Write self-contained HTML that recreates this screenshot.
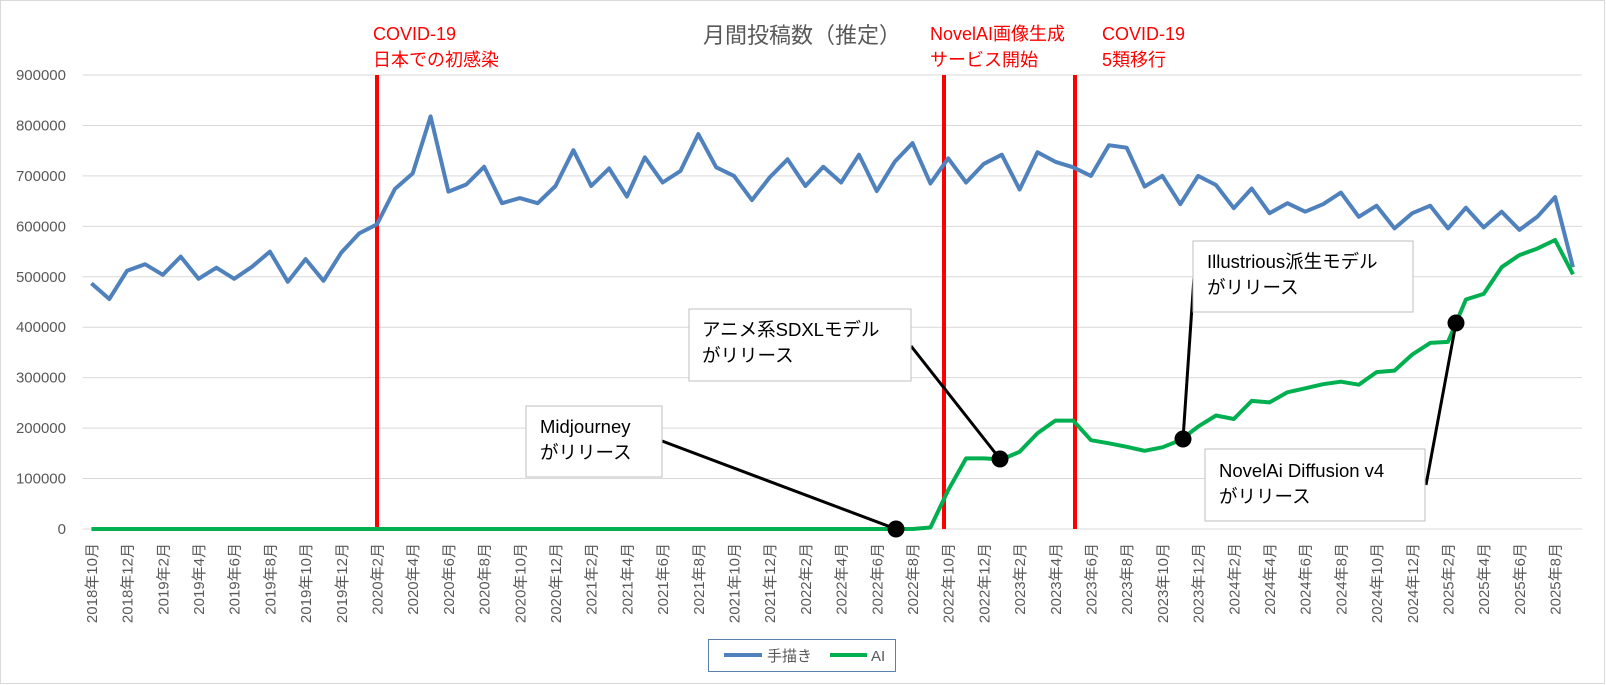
<!DOCTYPE html>
<html><head><meta charset="utf-8"><style>
html,body{margin:0;padding:0;background:#fff;}
svg{display:block;font-family:"Liberation Sans","Noto Sans CJK JP",sans-serif;}
</style></head><body>
<svg width="1606" height="685" viewBox="0 0 1606 685" xmlns="http://www.w3.org/2000/svg">
<rect x="0.5" y="0.5" width="1604" height="683" fill="#fff" stroke="#d9d9d9"/>
<g id="grid" stroke="#d9d9d9" stroke-width="1"></g>
<g id="ylab" fill="#595959" font-size="15" text-anchor="end"></g>
<g id="xlab" fill="#595959" font-size="15"></g>
<text x="802" y="43" font-size="22" fill="#595959" text-anchor="middle">月間投稿数（推定）</text>
<g fill="#ff0000" font-size="18">
<text x="373" y="40">COVID-19</text><text x="373" y="66">日本での初感染</text>
<text x="930" y="40">NovelAI画像生成</text><text x="930" y="66">サービス開始</text>
<text x="1102" y="40">COVID-19</text><text x="1102" y="66">5類移行</text>
</g>
<g stroke="#ff0000" stroke-width="4">
<line x1="377" y1="75" x2="377" y2="529"/><line x1="944" y1="75" x2="944" y2="529"/><line x1="1075" y1="75" x2="1075" y2="529"/>
</g>
<polyline id="blue" fill="none" stroke="#4f81bd" stroke-width="4" stroke-linejoin="round"/>
<polyline id="green" fill="none" stroke="#00b050" stroke-width="4" stroke-linejoin="round"/>
<g stroke="#000" stroke-width="3">
<line x1="662" y1="441" x2="896" y2="529"/>
<line x1="911" y1="346" x2="1000" y2="459"/>
<line x1="1194" y1="277" x2="1183" y2="439"/>
<line x1="1426" y1="485" x2="1456" y2="323"/>
</g>
<g fill="#000"><circle cx="896" cy="529" r="8.5"/><circle cx="1000" cy="459" r="8.5"/><circle cx="1183" cy="439" r="8.5"/><circle cx="1456" cy="323" r="8.5"/></g>
<g fill="#fff" stroke="#bfbfbf">
<rect x="526" y="406" width="136" height="71"/>
<rect x="689" y="309" width="222" height="72"/>
<rect x="1193" y="241" width="220" height="71"/>
<rect x="1205" y="449" width="220" height="72"/>
</g>
<g font-size="18.5" fill="#000">
<text x="540" y="433">Midjourney</text><text x="540" y="459">がリリース</text>
<text x="702" y="336">アニメ系SDXLモデル</text><text x="702" y="362">がリリース</text>
<text x="1207" y="268">Illustrious派生モデル</text><text x="1207" y="294">がリリース</text>
<text x="1219" y="477">NovelAi Diffusion v4</text><text x="1219" y="503">がリリース</text>
</g>
<rect x="708.5" y="639.5" width="187" height="32" fill="#fff" stroke="#5b7fae"/>
<line x1="724" y1="655" x2="762" y2="655" stroke="#4f81bd" stroke-width="4"/>
<text x="767" y="661" font-size="15" fill="#595959">手描き</text>
<line x1="830" y1="655" x2="867" y2="655" stroke="#00b050" stroke-width="4"/>
<text x="871" y="661" font-size="15" fill="#595959">AI</text>
<script>
var NS="http://www.w3.org/2000/svg";
function X(i){return 82.5+17.85*(i+0.5);}
function Y(v){return 529-v*0.0005044;}
var g=document.getElementById('grid'),yl=document.getElementById('ylab'),xl=document.getElementById('xlab');
for(var k=0;k<=9;k++){var y=Y(k*100000);var l=document.createElementNS(NS,'line');l.setAttribute('x1',82.5);l.setAttribute('x2',1582);l.setAttribute('y1',y);l.setAttribute('y2',y);g.appendChild(l);
var t=document.createElementNS(NS,'text');t.setAttribute('x',66);t.setAttribute('y',y+5);t.textContent=String(k*100000);yl.appendChild(t);}
for(var i=0;i<84;i+=2){var m=(9+i)%12+1,yr=2018+Math.floor((9+i)/12);var t=document.createElementNS(NS,'text');var x=X(i)+5.5;
t.setAttribute('transform','translate('+x+',543) rotate(-90)');t.setAttribute('text-anchor','end');t.textContent=yr+'年'+m+'月';xl.appendChild(t);}
var b=[487,456,512,525,504,540,496,518,496,520,550,490,535,492,548,586,604,674,705,818,669,683,718,646,656,646,680,751,680,715,659,737,687,710,783,717,700,652,697,733,680,718,687,742,670,728,765,685,735,687,724,742,673,747,728,717,700,761,756,679,700,644,700,682,636,675,626,646,629,644,667,619,641,596,626,641,596,637,598,629,593,619,658,519];
var gr=[];for(var i=0;i<47;i++)gr.push(0);gr.push(3);
gr=gr.concat([77,140,140,138,153,190,215,215,176,170,163,155,162,176,203,225,218,254,251,271,279,287,292,286,311,314,346,369,371,455,466,519,543,556,573,505]);
function pts(a){return a.map(function(v,i){return X(i).toFixed(1)+','+Y(v*1000).toFixed(1);}).join(' ');}
document.getElementById('blue').setAttribute('points',pts(b));
document.getElementById('green').setAttribute('points',pts(gr));
</script>
</svg>
</body></html>
